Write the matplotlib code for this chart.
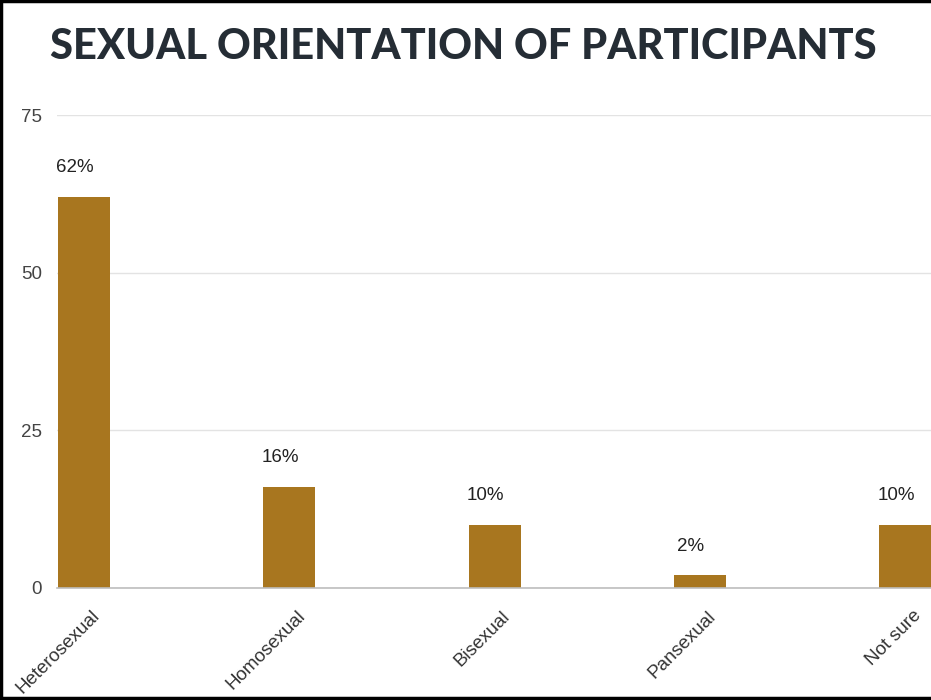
import matplotlib
matplotlib.use("Agg")
import matplotlib.pyplot as plt
from matplotlib.lines import Line2D
import matplotlib.transforms as mtransforms

categories = ["Heterosexual", "Homosexual", "Bisexual", "Pansexual", "Not sure"]
values = [62, 16, 10, 2, 10]
labels = ["62%", "16%", "10%", "2%", "10%"]
yticks = [0, 25, 50, 75]

W, H = 931, 700
fig = plt.figure(figsize=(W / 100, H / 100), dpi=100)

x0_px, x1_px = 57, 931
y0_px, y75_px = 588, 115
ax = fig.add_axes([x0_px / W, 1 - y0_px / H, (x1_px - x0_px) / W, (y0_px - y75_px) / H])

bar_color = "#a8761f"
xs = list(range(len(categories)))
ax.bar(xs, values, width=0.253, color=bar_color, zorder=3)
ax.set_xlim(-0.132, 4.125)
ax.set_ylim(0, 75)
ax.set_yticks(yticks)
ax.set_yticklabels([str(t) for t in yticks], fontsize=13.5, color="#444444", family="Liberation Sans")
ax.tick_params(axis="y", length=0, pad=11)
ax.tick_params(axis="x", length=0, pad=14)
ax.set_xticks(xs)
ax.set_xticklabels(categories, rotation=45, ha="right", rotation_mode="anchor",
                   fontsize=13.5, color="#333333", family="Liberation Sans")
ax.grid(axis="y", color="#e3e3e3", linewidth=1, zorder=0)
for s in ["top", "right", "left"]:
    ax.spines[s].set_visible(False)
ax.spines["bottom"].set_color("#bdbdbd")
ax.spines["bottom"].set_linewidth(1.2)
ax.spines["bottom"].set_zorder(4)

for x, v, t in zip(xs, values, labels):
    ax.annotate(t, (x, v), xytext=(-6.5, 15), textcoords="offset points", ha="center", va="bottom",
                fontsize=13.5, color="#222222", family="Liberation Sans")

offset = mtransforms.ScaledTranslation(7 / 100, 0, fig.dpi_scale_trans)
for lab in ax.get_xticklabels():
    lab.set_transform(lab.get_transform() + offset)

fig.text(463 / W, 1 - 47 / H, "SEXUAL ORIENTATION OF PARTICIPANTS", ha="center", va="center",
         fontsize=30, fontweight="black", family="Lato", color="#252d35")

lw = 2.5
fig.add_artist(Line2D([0.001, 0.001], [0, 1], transform=fig.transFigure, color="black", linewidth=lw))
fig.add_artist(Line2D([0, 1], [0.998, 0.998], transform=fig.transFigure, color="black", linewidth=lw))
fig.add_artist(Line2D([0, 1], [0.003, 0.003], transform=fig.transFigure, color="black", linewidth=lw))

fig.savefig("out.png", dpi=100)
